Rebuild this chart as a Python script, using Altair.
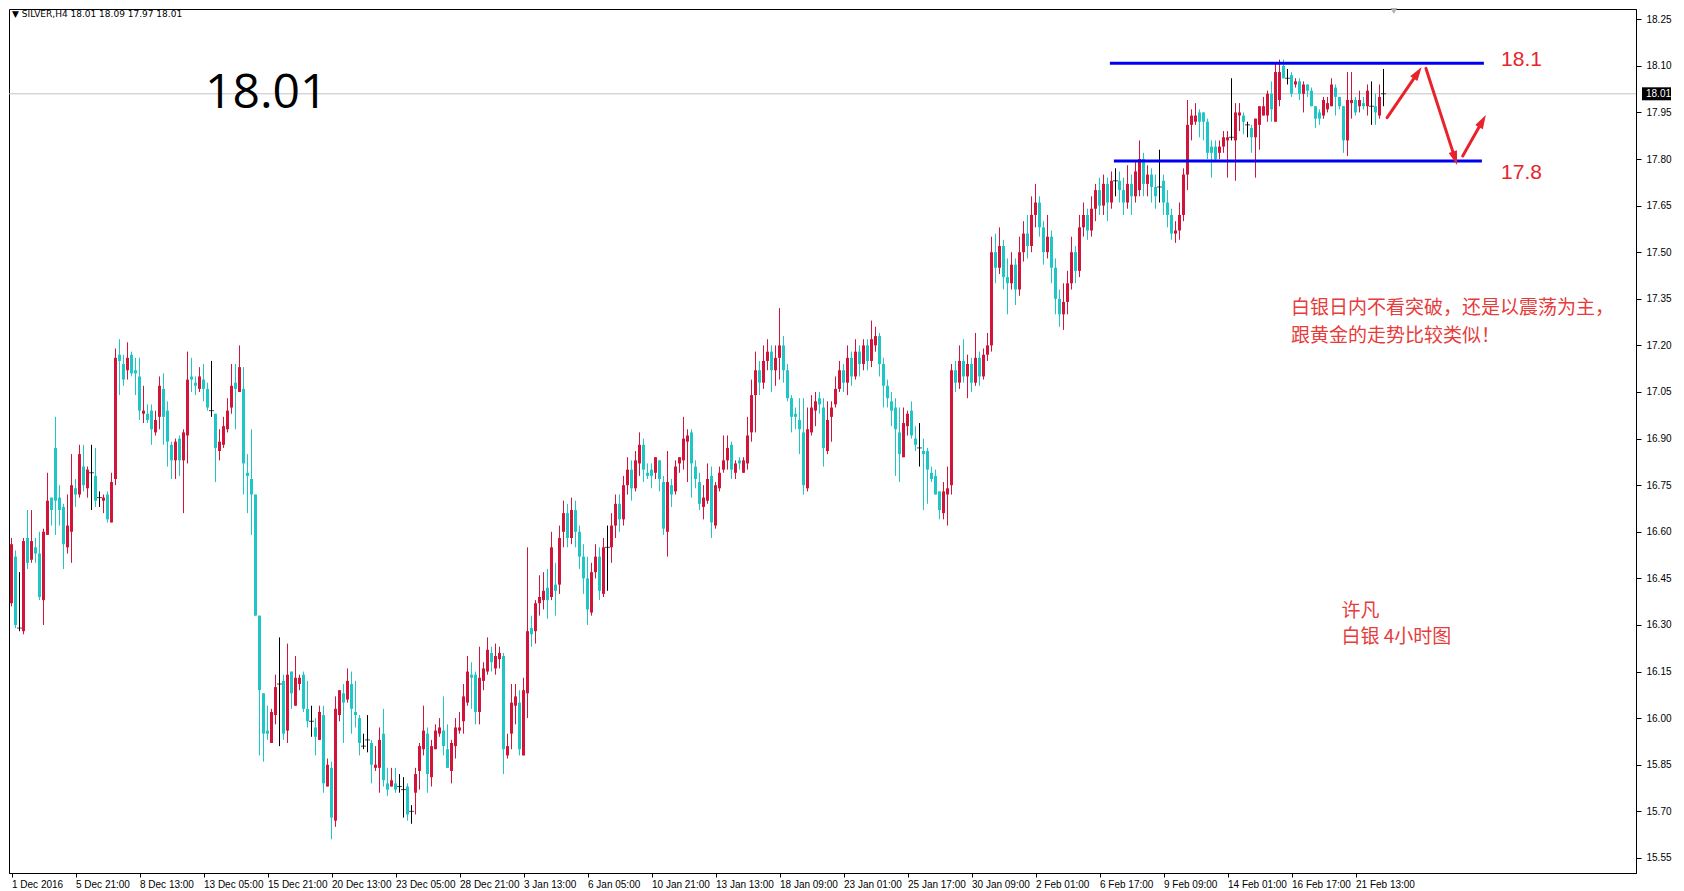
import json
import math
import altair as alt
import pandas as pd

# ---------------- data (SILVER H4) ----------------
OPEN = [
    16.37,16.52,16.29,16.28,16.58,16.51,16.55,16.53,16.38,16.59,
    16.71,16.87,16.71,16.68,16.55,16.60,16.74,16.72,16.81,16.74,
    16.79,16.78,16.71,16.70,16.72,16.63,16.77,17.17,17.14,17.12,
    17.17,17.12,17.10,16.98,16.98,16.99,16.92,16.97,17.06,16.99,
    16.88,16.83,16.90,16.83,16.91,17.10,17.08,17.06,17.09,17.06,
    16.99,16.98,16.86,16.88,16.93,17.00,17.08,17.05,17.06,16.79,
    16.77,16.72,16.33,16.08,15.96,15.92,16.01,16.11,16.12,15.96,
    16.15,16.04,16.11,16.14,16.03,15.99,15.97,15.93,16.01,15.78,
    15.84,15.67,16.01,16.08,16.06,16.11,16.02,16.00,15.91,15.93,
    15.92,15.84,15.84,15.95,15.79,15.78,15.79,15.78,15.77,15.78,
    15.70,15.76,15.83,15.90,15.95,15.81,15.90,15.95,15.96,15.90,
    15.83,15.91,15.96,15.99,16.05,16.14,16.14,16.02,16.12,16.15,
    16.21,16.16,16.19,16.20,15.88,15.95,16.04,16.05,15.88,16.08,
    16.29,16.28,16.37,16.38,16.42,16.39,16.43,16.43,16.60,16.66,
    16.58,16.67,16.60,16.52,16.45,16.34,16.47,16.52,16.40,16.55,
    16.55,16.62,16.69,16.64,16.75,16.80,16.74,16.82,16.88,16.79,
    16.80,16.79,16.83,16.76,16.60,16.75,16.73,16.82,16.83,16.89,
    16.92,16.81,16.76,16.68,16.70,16.78,16.62,16.74,16.80,16.83,
    16.88,16.79,16.83,16.79,16.82,16.92,17.04,17.12,17.08,17.15,
    17.18,17.12,17.16,17.20,17.12,17.03,16.98,16.96,16.92,16.74,
    16.92,16.99,17.03,17.00,16.86,16.97,17.01,17.06,17.12,17.08,
    17.16,17.10,17.18,17.14,17.20,17.15,17.20,17.23,17.14,17.07,
    17.02,17.00,16.92,16.84,16.94,16.99,16.90,16.87,16.86,16.86,
    16.79,16.78,16.73,16.66,16.72,16.75,17.12,17.08,17.15,17.10,
    17.14,17.08,17.16,17.10,17.17,17.20,17.50,17.45,17.52,17.42,
    17.40,17.46,17.38,17.50,17.56,17.52,17.62,17.66,17.58,17.50,
    17.55,17.45,17.35,17.30,17.34,17.40,17.50,17.44,17.58,17.62,
    17.57,17.64,17.70,17.65,17.72,17.66,17.73,17.73,17.70,17.66,
    17.72,17.68,17.70,17.80,17.72,17.75,17.71,17.71,17.73,17.66,
    17.62,17.56,17.57,17.62,17.75,17.91,17.92,17.95,17.95,17.92,
    17.84,17.84,17.82,17.84,17.86,17.87,17.86,17.94,17.94,17.91,
    17.90,17.87,17.91,17.94,17.94,18.01,17.92,17.99,18.10,18.06,
    18.07,18.04,18.05,18.01,18.04,18.02,17.97,17.95,17.94,17.96,
    17.97,18.03,18.00,17.97,17.86,17.98,17.99,17.97,17.98,17.97,
    17.97,17.97,17.94,18.01,
]
HIGH = [
    16.58,16.54,16.47,16.58,16.67,16.67,16.58,16.60,16.61,16.79,
    16.71,16.97,16.75,16.69,16.72,16.85,16.77,16.88,16.88,16.81,
    16.88,16.87,16.73,16.72,16.73,16.79,17.19,17.22,17.17,17.21,
    17.18,17.16,17.16,17.07,17.01,17.01,16.99,17.10,17.11,17.02,
    16.89,16.90,16.91,16.93,17.18,17.16,17.10,17.13,17.14,17.08,
    17.15,16.98,16.93,16.97,17.03,17.14,17.14,17.20,17.13,16.85,
    16.93,16.72,16.33,16.08,16.04,16.03,16.14,16.26,16.14,16.24,
    16.15,16.20,16.14,16.15,16.12,16.04,16.00,16.04,16.04,15.87,
    15.86,16.07,16.09,16.11,16.16,16.15,16.12,16.01,15.95,16.01,
    15.93,15.91,15.97,16.03,15.84,15.84,15.84,15.82,15.81,15.79,
    15.72,15.84,15.92,16.04,15.97,15.93,15.98,16.00,16.07,15.98,
    15.93,16.00,16.02,16.11,16.20,16.18,16.15,16.23,16.18,16.26,
    16.23,16.24,16.23,16.21,15.95,16.11,16.11,16.09,16.13,16.55,
    16.33,16.38,16.46,16.47,16.48,16.60,16.50,16.62,16.70,16.69,
    16.71,16.70,16.62,16.56,16.52,16.50,16.56,16.55,16.58,16.62,
    16.66,16.72,16.72,16.78,16.84,16.83,16.86,16.92,16.90,16.82,
    16.82,16.84,16.83,16.78,16.86,16.77,16.83,16.84,16.97,16.93,
    16.93,16.83,16.79,16.75,16.82,16.81,16.76,16.81,16.91,16.91,
    16.89,16.83,16.84,16.84,16.97,17.09,17.18,17.15,17.20,17.22,
    17.20,17.20,17.32,17.23,17.14,17.04,17.00,17.03,17.03,17.00,
    17.04,17.05,17.05,17.03,17.02,17.02,17.10,17.15,17.14,17.20,
    17.18,17.22,17.20,17.22,17.22,17.28,17.26,17.24,17.16,17.09,
    17.05,17.03,17.00,17.00,16.99,17.02,16.94,16.95,16.90,16.87,
    16.81,16.80,16.73,16.76,16.81,17.14,17.15,17.20,17.22,17.17,
    17.16,17.24,17.18,17.19,17.24,17.55,17.56,17.58,17.54,17.48,
    17.50,17.48,17.55,17.60,17.62,17.68,17.72,17.68,17.60,17.62,
    17.57,17.48,17.38,17.40,17.44,17.55,17.52,17.62,17.66,17.64,
    17.68,17.72,17.74,17.75,17.74,17.76,17.77,17.76,17.74,17.78,
    17.75,17.79,17.86,17.82,17.78,17.77,17.75,17.83,17.75,17.70,
    17.64,17.60,17.66,17.77,17.99,17.96,17.98,17.96,17.95,17.93,
    17.86,17.86,17.86,17.89,17.89,18.06,17.98,17.98,17.95,17.92,
    17.91,17.93,17.97,18.00,18.02,18.05,18.11,18.12,18.12,18.09,
    18.08,18.06,18.06,18.05,18.04,18.03,17.97,17.96,18.00,18.00,
    18.06,18.04,18.00,17.97,18.08,18.08,18.00,18.02,18.00,18.04,
    18.05,18.01,18.04,18.09,
]
LOW = [
    16.36,16.29,16.28,16.27,16.48,16.50,16.50,16.38,16.30,16.59,
    16.62,16.59,16.62,16.48,16.53,16.50,16.68,16.71,16.73,16.71,
    16.67,16.68,16.68,16.66,16.63,16.63,16.75,17.04,17.07,17.09,
    17.10,17.04,16.96,16.95,16.95,16.88,16.91,16.93,16.88,16.81,
    16.77,16.77,16.78,16.66,16.82,17.05,17.04,17.05,17.02,16.99,
    16.97,16.76,16.83,16.87,16.92,16.98,16.93,17.05,16.72,16.66,
    16.59,16.33,15.88,15.86,15.93,15.92,15.98,15.91,15.93,15.92,
    16.03,16.04,16.09,16.02,15.97,15.94,15.88,15.93,15.76,15.78,
    15.61,15.65,15.99,15.92,16.05,15.95,15.97,15.88,15.90,15.89,
    15.79,15.83,15.76,15.78,15.75,15.78,15.76,15.76,15.68,15.67,
    15.66,15.69,15.77,15.88,15.76,15.78,15.90,15.94,15.88,15.84,
    15.79,15.87,15.95,15.95,16.04,16.03,15.98,15.98,16.09,16.14,
    16.15,16.14,16.16,15.82,15.87,15.90,15.98,15.88,15.88,16.00,
    16.23,16.24,16.33,16.35,16.32,16.38,16.33,16.40,16.55,16.55,
    16.56,16.55,16.48,16.40,16.30,16.33,16.45,16.38,16.39,16.41,
    16.50,16.58,16.60,16.62,16.72,16.70,16.73,16.78,16.76,16.77,
    16.74,16.77,16.73,16.59,16.52,16.68,16.72,16.79,16.80,16.76,
    16.71,16.74,16.67,16.64,16.69,16.58,16.61,16.73,16.79,16.80,
    16.77,16.77,16.80,16.79,16.80,16.89,16.92,17.04,17.06,17.12,
    17.05,17.07,17.09,17.08,17.02,16.92,16.93,16.85,16.72,16.73,
    16.91,16.94,16.98,16.81,16.85,16.89,17.00,17.05,17.05,17.04,
    17.07,17.09,17.10,17.12,17.12,17.13,17.18,17.10,17.00,17.00,
    16.94,16.78,16.76,16.84,16.91,16.90,16.86,16.81,16.67,16.69,
    16.76,16.72,16.64,16.64,16.62,16.72,17.05,17.06,17.08,17.03,
    17.05,17.07,17.07,17.09,17.15,17.18,17.40,17.43,17.38,17.30,
    17.38,17.33,17.36,17.47,17.48,17.50,17.58,17.55,17.46,17.48,
    17.40,17.30,17.26,17.25,17.30,17.38,17.40,17.42,17.55,17.54,
    17.55,17.60,17.62,17.62,17.60,17.64,17.68,17.66,17.62,17.64,
    17.62,17.66,17.68,17.68,17.68,17.66,17.64,17.66,17.62,17.58,
    17.54,17.53,17.54,17.60,17.70,17.86,17.91,17.87,17.86,17.80,
    17.74,17.79,17.80,17.82,17.74,17.86,17.73,17.89,17.88,17.87,
    17.82,17.74,17.83,17.94,17.92,17.92,17.92,17.97,18.06,18.04,
    18.00,18.03,17.99,17.95,18.00,17.97,17.90,17.91,17.93,17.95,
    17.97,17.94,17.96,17.82,17.81,17.93,17.94,17.95,17.96,17.94,
    17.91,17.91,17.93,17.97,
]
CLOSE = [
    16.56,16.30,16.29,16.57,16.50,16.57,16.53,16.39,16.60,16.70,
    16.67,16.70,16.67,16.56,16.62,16.75,16.72,16.85,16.75,16.80,
    16.79,16.70,16.71,16.71,16.64,16.76,17.16,17.15,17.09,17.16,
    17.11,17.11,16.99,16.99,16.96,16.93,16.96,17.07,16.97,16.89,
    16.83,16.89,16.83,16.92,17.09,17.09,17.07,17.10,17.06,17.00,
    16.99,16.87,16.89,16.94,16.99,17.07,17.06,17.13,16.82,16.78,
    16.72,16.33,16.09,15.95,15.95,16.02,16.10,16.11,15.95,16.14,
    16.08,16.13,16.13,16.03,15.99,15.99,15.94,16.02,15.79,15.85,
    15.68,16.03,16.09,16.05,16.12,16.03,16.01,15.92,15.91,15.93,
    15.85,15.85,15.93,15.80,15.77,15.80,15.77,15.78,15.77,15.69,
    15.70,15.82,15.91,15.96,15.82,15.91,15.96,15.97,15.91,15.84,
    15.92,15.97,15.97,16.07,16.15,16.13,16.02,16.13,16.16,16.22,
    16.18,16.20,16.21,15.90,15.91,16.05,16.07,15.90,16.09,16.28,
    16.27,16.37,16.39,16.41,16.38,16.55,16.41,16.58,16.66,16.58,
    16.67,16.60,16.52,16.45,16.35,16.47,16.52,16.41,16.55,16.55,
    16.62,16.69,16.64,16.75,16.80,16.74,16.83,16.88,16.80,16.78,
    16.78,16.84,16.77,16.61,16.76,16.72,16.81,16.84,16.90,16.91,
    16.82,16.77,16.69,16.71,16.77,16.63,16.75,16.79,16.83,16.87,
    16.80,16.82,16.82,16.83,16.91,17.04,17.12,17.08,17.15,17.18,
    17.12,17.16,17.20,17.12,17.03,16.97,16.97,16.93,16.75,16.93,
    17.00,17.02,17.01,16.87,16.96,17.00,17.06,17.12,17.08,17.16,
    17.10,17.18,17.14,17.20,17.15,17.22,17.23,17.14,17.07,17.03,
    16.99,16.93,16.85,16.95,16.98,16.91,16.88,16.87,16.85,16.80,
    16.77,16.72,16.67,16.73,16.74,17.12,17.08,17.15,17.10,17.14,
    17.08,17.16,17.10,17.17,17.20,17.50,17.45,17.52,17.42,17.40,
    17.46,17.38,17.50,17.56,17.52,17.62,17.66,17.58,17.50,17.55,
    17.45,17.35,17.30,17.34,17.40,17.50,17.44,17.58,17.62,17.57,
    17.64,17.70,17.65,17.72,17.66,17.73,17.73,17.70,17.66,17.72,
    17.68,17.76,17.80,17.72,17.75,17.71,17.68,17.71,17.66,17.62,
    17.56,17.57,17.62,17.75,17.91,17.94,17.94,17.92,17.92,17.82,
    17.82,17.80,17.84,17.87,17.87,17.87,17.95,17.95,17.92,17.91,
    17.87,17.93,17.97,17.97,18.01,17.96,18.08,18.08,18.06,18.06,
    18.01,18.05,18.01,18.04,18.02,17.97,17.93,17.93,17.99,17.98,
    18.04,18.00,17.97,17.86,17.99,17.99,17.95,17.99,17.97,18.02,
    17.97,17.95,18.00,18.01,
]

X_LABELS = ["1 Dec 2016", "5 Dec 21:00", "8 Dec 13:00", "13 Dec 05:00", "15 Dec 21:00",
            "20 Dec 13:00", "23 Dec 05:00", "28 Dec 21:00", "3 Jan 13:00", "6 Jan 05:00",
            "10 Jan 21:00", "13 Jan 13:00", "18 Jan 09:00", "23 Jan 01:00", "25 Jan 17:00",
            "30 Jan 09:00", "2 Feb 01:00", "6 Feb 17:00", "9 Feb 09:00", "14 Feb 01:00",
            "16 Feb 17:00", "21 Feb 13:00"]
BARS_PER_LABEL = 16
Y_TICKS = [15.55, 15.70, 15.85, 16.00, 16.15, 16.30, 16.45, 16.60, 16.75, 16.90,
           17.05, 17.20, 17.35, 17.50, 17.65, 17.80, 17.95, 18.10, 18.25]

HEADER = "\u25bc SILVER,H4  18.01 18.09 17.97 18.01"
LAST_PRICE = 18.01

# annotation: horizontal range lines
BAND_X1 = [275.6, 276.6]
BAND_X2 = [369.1, 368.6]
BAND_Y = [18.108, 17.794]
BAND_TEXT = ["18.1", "17.8"]
BAND_TEXT_X = [373.4, 373.4]
BAND_TEXT_Y = [18.119, 17.756]

# annotation: red arrows (start -> tip)
ARROW_X1 = [344.9, 354.6, 363.8]
ARROW_Y1 = [17.933, 18.092, 17.810]
ARROW_X2 = [353.55, 362.4, 369.6]
ARROW_Y2 = [18.096, 17.781, 17.942]

CN_TEXT = ["白银日内不看突破，还是以震荡为主，", "跟黄金的走势比较类似！", "许凡", "白银 4小时图"]
CN_X = [320.9, 320.9, 333.5, 333.5]
CN_Y = [17.320, 17.230, 16.345, 16.262]
CN_SIZE = [19, 19, 19, 19]

BIG_X = 49.4
SHIFT_MARK_X = 346.6

# ---------------- styling ----------------
UP_COLOR = "#d2143a"
DOWN_COLOR = "#1fc6c6"
DOJI_COLOR = "#000000"
RED_ANN = "#e8232b"
BLUE = "#0000f0"

PLOT_W, PLOT_H = 1627, 864
PX_PER_BAR = 4.0
X_LO = 1 - 2.5 / PX_PER_BAR
X_HI = X_LO + PLOT_W / PX_PER_BAR
Y_LO, Y_HI = 15.5015, 18.283
PX_PER_UNIT = PLOT_H / (Y_HI - Y_LO)

N = len(CLOSE)
assert len(OPEN) == N and len(HIGH) == N and len(LOW) == N, (len(OPEN), len(HIGH), len(LOW), N)

df = pd.DataFrame({"i": list(range(1, N + 1)), "o": OPEN, "h": HIGH, "l": LOW, "c": CLOSE})
df["dir"] = ["up" if c > o else ("down" if c < o else "doji") for o, c in zip(OPEN, CLOSE)]

xs = alt.Scale(domain=[X_LO, X_HI], nice=False, zero=False)
ys = alt.Scale(domain=[Y_LO, Y_HI], nice=False, zero=False)

AXIS_FONT = "Liberation Sans"
x_axis = alt.Axis(
    values=[1 + BARS_PER_LABEL * k for k in range(len(X_LABELS))],
    labelExpr=json.dumps(X_LABELS) + "[round((datum.value-1)/" + str(BARS_PER_LABEL) + ")]",
    labelAlign="left", labelBaseline="top", labelPadding=2, tickSize=4,
    labelFont=AXIS_FONT, labelFontSize=10, labelColor="black",
    domainColor="black", tickColor="black", grid=False, title=None,
    labelOverlap=False, labelFlush=False,
)
y_axis = alt.Axis(
    orient="right", values=Y_TICKS, format=".2f", tickSize=5, labelPadding=5,
    labelFont=AXIS_FONT, labelFontSize=10, labelColor="black",
    domainColor="black", tickColor="black", grid=False, title=None,
    labelOverlap=False, labelFlush=False,
)
color_enc = alt.Color("dir:N", scale=alt.Scale(domain=["up", "down", "doji"],
                                               range=[UP_COLOR, DOWN_COLOR, DOJI_COLOR]), legend=None)


def X(f):
    return alt.X(f, scale=xs, axis=x_axis)


def Y(f):
    return alt.Y(f, scale=ys, axis=y_axis)


price_line = alt.Chart(pd.DataFrame({"p": [LAST_PRICE]})).mark_rule(
    color="#c4c4c4", strokeWidth=1).encode(y=Y("p:Q"))

wicks = alt.Chart(df).mark_rule(strokeWidth=1).encode(
    x=X("i:Q"), y=Y("l:Q"), y2="h:Q", color=color_enc)

bodies = alt.Chart(df[df["dir"] != "doji"]).mark_rule(strokeWidth=3, strokeCap="butt").encode(
    x=X("i:Q"), y=Y("o:Q"), y2="c:Q", color=color_enc)

dojis = alt.Chart(df[df["dir"] == "doji"]).mark_tick(
    orient="horizontal", size=5, thickness=1, color=DOJI_COLOR).encode(x=X("i:Q"), y=Y("c:Q"))

band_df = pd.DataFrame({"x1": BAND_X1, "x2": BAND_X2, "y": BAND_Y})
bands = alt.Chart(band_df).mark_rule(color=BLUE, strokeWidth=3).encode(
    x=X("x1:Q"), x2="x2:Q", y=Y("y:Q"))

band_txt = alt.Chart(pd.DataFrame({"x": BAND_TEXT_X, "y": BAND_TEXT_Y, "t": BAND_TEXT})).mark_text(
    font="Liberation Sans", fontSize=21, color=RED_ANN, align="left", baseline="middle").encode(
    x=X("x:Q"), y=Y("y:Q"), text="t:N")

# arrows: shaft + head (head orientation derived from the start/tip positions)
HEAD_LEN = 14.0
rows = []
for x1, y1, x2, y2 in zip(ARROW_X1, ARROW_Y1, ARROW_X2, ARROW_Y2):
    dx = (x2 - x1) * PX_PER_BAR
    dy_up = (y2 - y1) * PX_PER_UNIT
    length = math.hypot(dx, dy_up)
    ux, uy = dx / length, dy_up / length
    ang = math.degrees(math.atan2(dx, dy_up)) % 360
    hx = x2 - (HEAD_LEN / 2) * ux / PX_PER_BAR
    hy = y2 - (HEAD_LEN / 2) * uy / PX_PER_UNIT
    sx = x2 - (HEAD_LEN * 0.7) * ux / PX_PER_BAR
    sy = y2 - (HEAD_LEN * 0.7) * uy / PX_PER_UNIT
    rows.append({"x1": x1, "y1": y1, "sx": sx, "sy": sy, "hx": hx, "hy": hy, "ang": ang})
arrow_df = pd.DataFrame(rows)
shafts = alt.Chart(arrow_df).mark_rule(color=RED_ANN, strokeWidth=3, strokeCap="round").encode(
    x=X("x1:Q"), y=Y("y1:Q"), x2="sx:Q", y2="sy:Q")
heads = alt.Chart(arrow_df).mark_point(
    shape="M0,-1L0.62,1L-0.62,1Z", filled=True, size=HEAD_LEN ** 2, color=RED_ANN, opacity=1,
    strokeWidth=0).encode(x=X("hx:Q"), y=Y("hy:Q"), angle=alt.Angle("ang:Q", scale=None))

cn_txt = alt.Chart(pd.DataFrame({"x": CN_X, "y": CN_Y, "t": CN_TEXT, "s": CN_SIZE})).mark_text(
    font="Noto Sans CJK SC", color="#e63c3c", align="left", baseline="middle").encode(
    x=X("x:Q"), y=Y("y:Q"), text="t:N", size=alt.Size("s:Q", scale=None, legend=None))

big_txt = alt.Chart(pd.DataFrame({"x": [BIG_X], "y": [LAST_PRICE], "t": [f"{LAST_PRICE:.2f}"]})).mark_text(
    font="Open Sans", fontSize=48, color="black", align="left", baseline="middle").encode(
    x=X("x:Q"), y=Y("y:Q"), text="t:N")

header = alt.Chart(pd.DataFrame({"t": [HEADER]})).mark_text(
    font="DejaVu Sans", fontSize=9, color="black", align="left", baseline="middle").encode(
    x=alt.value(3), y=alt.value(5), text="t:N")

shift_mark = alt.Chart(pd.DataFrame({"x": [SHIFT_MARK_X]})).mark_point(
    shape="triangle-down", filled=True, size=45, color="#b0b0b0", opacity=1).encode(
    x=X("x:Q"), y=alt.value(2))

# current price tag on the right axis
BOX_HALF = 6.5 / PX_PER_UNIT
tag_df = pd.DataFrame({"y1": [LAST_PRICE + BOX_HALF], "y2": [LAST_PRICE - BOX_HALF],
                       "p": [LAST_PRICE], "t": [f"{LAST_PRICE:.2f}"]})
tag_box = alt.Chart(tag_df).mark_rect(color="black").encode(
    x=alt.value(PLOT_W + 6), x2=alt.value(PLOT_W + 35), y=Y("y1:Q"), y2="y2:Q")
tag_txt = alt.Chart(tag_df).mark_text(
    font=AXIS_FONT, fontSize=10, color="white", align="left", baseline="middle").encode(
    x=alt.value(PLOT_W + 10), y=Y("p:Q"), text="t:N")

chart = alt.layer(
    price_line, wicks, bodies, dojis, bands, shafts, heads, band_txt, cn_txt, big_txt,
    header, shift_mark, tag_box, tag_txt,
).properties(
    width=PLOT_W, height=PLOT_H,
    padding={"left": 0, "top": 0, "right": 0, "bottom": 0},
    background="white",
).configure_view(stroke="black", strokeWidth=1)

chart.save("out.html", embed_options={"renderer": "svg", "actions": False})
